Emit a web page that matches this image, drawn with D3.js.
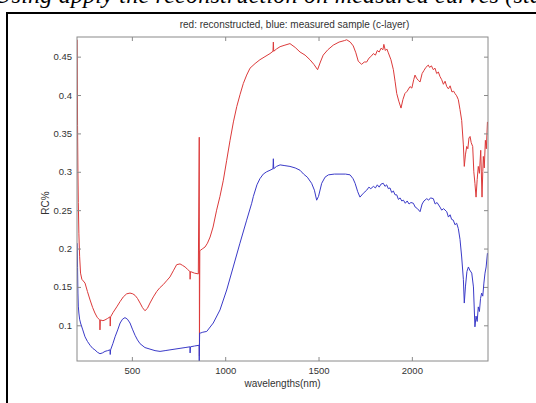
<!DOCTYPE html>
<html>
<head>
<meta charset="utf-8">
<script src="https://cdn.jsdelivr.net/npm/d3@7"></script>
<style>
  body { margin: 0; background: #fff; }
  svg { display: block; }
  .tick-label { font-family: "Liberation Sans", Arial, sans-serif; font-size: 9.5px; fill: #333; }
</style>
</head>
<body>
<div id="chart"></div>
<script>
      // spectra (wavelength in nm, RC%)
      var redWl = [207, 209, 211, 213, 216, 220, 225, 232, 249, 262, 276, 290, 302, 315, 328, 329, 331, 345, 356, 370, 383, 384, 386,
        400, 419, 437, 454, 472, 490, 505, 517, 530, 544, 557, 570, 583, 597, 615, 633, 650, 668, 686, 704, 722, 740, 758, 772,
        785, 798, 811, 812, 814, 835, 856, 861, 862, 864, 869, 880, 892, 905, 919, 935, 954, 972, 990, 1008, 1026, 1044, 1062,
        1080, 1097, 1115, 1133, 1160, 1186, 1213, 1240, 1256, 1258, 1260, 1275, 1294, 1320, 1347, 1375, 1401, 1428, 1454, 1475,
        1495, 1510, 1525, 1550, 1579, 1610, 1640, 1651, 1670, 1686, 1700, 1713, 1731, 1745, 1758, 1770, 1780, 1794, 1805, 1815,
        1825, 1835, 1845, 1850, 1858, 1866, 1874, 1888, 1901, 1910, 1919, 1930, 1942, 1952, 1963, 1975, 1990, 2000, 2010, 2017,
        2025, 2035, 2044, 2055, 2065, 2075, 2088, 2095, 2105, 2115, 2124, 2133, 2142, 2151, 2160, 2169, 2178, 2187, 2196, 2205,
        2215, 2224, 2231, 2240, 2249, 2258, 2267, 2276, 2281, 2287, 2294, 2300, 2306, 2312, 2318, 2326, 2332, 2338, 2344, 2350,
        2356, 2362, 2369, 2376, 2380, 2383, 2388, 2394, 2399, 2405];
      var redVal = [0.472, 0.36, 0.30, 0.26, 0.22, 0.19, 0.168, 0.160, 0.155, 0.144, 0.133, 0.123, 0.116, 0.110, 0.107, 0.094, 0.107,
        0.106, 0.107, 0.109, 0.111, 0.099, 0.111, 0.117, 0.124, 0.131, 0.137, 0.141, 0.142, 0.141, 0.139, 0.135, 0.129, 0.123,
        0.119, 0.122, 0.129, 0.137, 0.144, 0.149, 0.153, 0.158, 0.163, 0.171, 0.179, 0.180, 0.178, 0.176, 0.173, 0.170, 0.160,
        0.170, 0.168, 0.167, 0.345, 0.060, 0.197, 0.198, 0.200, 0.202, 0.207, 0.215, 0.228, 0.250, 0.268, 0.289, 0.315, 0.341,
        0.365, 0.385, 0.401, 0.415, 0.426, 0.435, 0.441, 0.446, 0.450, 0.454, 0.457, 0.469, 0.457, 0.460, 0.463, 0.465, 0.467,
        0.462, 0.456, 0.452, 0.446, 0.440, 0.433, 0.443, 0.452, 0.459, 0.465, 0.469, 0.471, 0.472, 0.469, 0.464, 0.455, 0.444,
        0.440, 0.443, 0.443, 0.448, 0.450, 0.454, 0.452, 0.458, 0.456, 0.461, 0.459, 0.466, 0.458, 0.460, 0.455, 0.446, 0.433,
        0.418, 0.402, 0.392, 0.383, 0.394, 0.402, 0.405, 0.411, 0.409, 0.420, 0.426, 0.422, 0.419, 0.417, 0.428, 0.432, 0.436,
        0.439, 0.436, 0.438, 0.433, 0.435, 0.428, 0.430, 0.424, 0.420, 0.414, 0.418, 0.411, 0.408, 0.412, 0.404, 0.405, 0.402,
        0.399, 0.394, 0.381, 0.367, 0.335, 0.307, 0.322, 0.333, 0.330, 0.344, 0.346, 0.338, 0.333, 0.300, 0.285, 0.267, 0.290,
        0.307, 0.298, 0.328, 0.267, 0.300, 0.320, 0.305, 0.341, 0.330, 0.365];

      var blueWl = [207, 209, 211, 213, 216, 220, 225, 237, 249, 262, 276, 290, 302, 315, 329, 342, 356, 370, 383, 384, 386, 398,
        410, 424, 437, 450, 463, 476, 490, 503, 517, 530, 544, 570, 597, 624, 651, 678, 704, 731, 758, 785, 811, 812, 814, 835,
        860, 861, 863, 869, 880, 901, 936, 972, 1008, 1043, 1079, 1115, 1142, 1151, 1170, 1186, 1204, 1222, 1240, 1256, 1258,
        1260, 1275, 1294, 1320, 1347, 1375, 1401, 1420, 1440, 1463, 1478, 1490, 1500, 1517, 1535, 1553, 1585, 1615, 1645, 1669,
        1685, 1696, 1710, 1722, 1740, 1758, 1770, 1780, 1794, 1805, 1815, 1825, 1835, 1847, 1856, 1865, 1874, 1883, 1892, 1901,
        1910, 1919, 1928, 1937, 1946, 1955, 1965, 1975, 1985, 1995, 2008, 2018, 2030, 2044, 2055, 2065, 2080, 2090, 2100, 2115,
        2125, 2135, 2151, 2160, 2170, 2187, 2196, 2205, 2213, 2222, 2231, 2240, 2249, 2258, 2267, 2276, 2281, 2287, 2295, 2303,
        2310, 2321, 2330, 2338, 2344, 2350, 2356, 2362, 2368, 2374, 2380, 2386, 2392, 2398, 2405];
      var blueVal = [0.207, 0.175, 0.142, 0.125, 0.116, 0.108, 0.103, 0.094, 0.085, 0.079, 0.074, 0.070, 0.068, 0.065, 0.063, 0.064,
        0.066, 0.067, 0.068, 0.062, 0.068, 0.076, 0.085, 0.094, 0.103, 0.108, 0.110, 0.108, 0.103, 0.095, 0.087, 0.081, 0.076,
        0.071, 0.069, 0.067, 0.066, 0.067, 0.068, 0.069, 0.070, 0.071, 0.072, 0.064, 0.072, 0.073, 0.074, 0.0535, 0.090, 0.090,
        0.091, 0.092, 0.103, 0.120, 0.146, 0.176, 0.207, 0.237, 0.259, 0.268, 0.283, 0.291, 0.297, 0.300, 0.302, 0.304, 0.317,
        0.304, 0.307, 0.309, 0.308, 0.307, 0.305, 0.302, 0.297, 0.293, 0.285, 0.276, 0.263, 0.268, 0.285, 0.293, 0.296, 0.297,
        0.297, 0.297, 0.296, 0.291, 0.285, 0.274, 0.267, 0.272, 0.276, 0.280, 0.278, 0.281, 0.279, 0.283, 0.280, 0.284, 0.285,
        0.281, 0.283, 0.278, 0.279, 0.273, 0.275, 0.270, 0.270, 0.264, 0.266, 0.262, 0.263, 0.259, 0.262, 0.258, 0.260, 0.259,
        0.254, 0.252, 0.248, 0.258, 0.262, 0.265, 0.263, 0.266, 0.265, 0.258, 0.260, 0.254, 0.250, 0.252, 0.248, 0.241, 0.244,
        0.238, 0.237, 0.231, 0.233, 0.226, 0.212, 0.189, 0.160, 0.129, 0.150, 0.170, 0.176, 0.172, 0.168, 0.150, 0.098, 0.112,
        0.105, 0.124, 0.118, 0.135, 0.142, 0.138, 0.155, 0.168, 0.176, 0.194];

      var xTicks = [500, 1000, 1500, 2000];
      var yTicks = [0.1, 0.15, 0.2, 0.25, 0.3, 0.35, 0.4, 0.45];
      var titleText = "red: reconstructed, blue: measured sample (c-layer)";
      var topLine = "Using apply the reconstruction on measured curves (sta";

      var width = 536;
      var height = 403;
      var plot = { left: 77, right: 488, top: 37, bottom: 361 };

      var svg = d3.select('#chart').append('svg')
                  .attr('width', width)
                  .attr('height', height);

      // line of page text above the figure, mostly cut off like in the scan
      svg.append('text')
         .attr('x', -6).attr('y', 3)
         .attr('font-family', '"Liberation Serif", "Times New Roman", serif')
         .attr('font-style', 'italic')
         .attr('font-size', 24)
         .attr('textLength', 548)
         .attr('fill', '#000')
         .text(topLine);

      // white figure area with black frame
      svg.append('rect')
         .attr('x', 7).attr('y', 13)
         .attr('width', 600).attr('height', 500)
         .attr('fill', '#fff')
         .attr('stroke', '#000')
         .attr('stroke-width', 2);

      var x = d3.scaleLinear().domain([206, 2408]).range([plot.left, plot.right]);
      var y = d3.scaleLinear().domain([0.0535, 0.4756]).range([plot.bottom, plot.top]);

      var line = d3.line()
                   .x(function(d){ return x(d[0]); })
                   .y(function(d){ return y(d[1]); });

      var red = d3.zip(redWl, redVal);
      var blue = d3.zip(blueWl, blueVal);

      svg.append('defs').append('clipPath').attr('id', 'clip')
         .append('rect')
         .attr('x', plot.left).attr('y', plot.top)
         .attr('width', plot.right - plot.left).attr('height', plot.bottom - plot.top);

      var lines = svg.append('g').attr('clip-path', 'url(#clip)');
      lines.append('path').datum(red)
           .attr('fill', 'none')
           .attr('stroke', '#dc3a3a')
           .attr('stroke-width', 1)
           .attr('d', line);
      lines.append('path').datum(blue)
           .attr('fill', 'none')
           .attr('stroke', '#3a3ac8')
           .attr('stroke-width', 1)
           .attr('d', line);

      // Draw the axis (ticks inside, box on)
      var axisColor = '#8a8a8a';
      var xAxis = svg.append('g').attr('transform', 'translate(0,' + plot.bottom + ')')
                     .call(d3.axisBottom(x).tickValues(xTicks).tickSizeInner(-4).tickSizeOuter(0).tickPadding(6)
                             .tickFormat(d3.format('d')));
      var xTop = svg.append('g').attr('transform', 'translate(0,' + plot.top + ')')
                    .call(d3.axisTop(x).tickValues(xTicks).tickSizeInner(-4).tickSizeOuter(0).tickFormat(''));
      var yAxis = svg.append('g').attr('transform', 'translate(' + plot.left + ',0)')
                     .call(d3.axisLeft(y).tickValues(yTicks).tickSizeInner(-4).tickSizeOuter(0).tickPadding(5)
                             .tickFormat(function(d){ return String(+d.toFixed(2)); }));
      var yRight = svg.append('g').attr('transform', 'translate(' + plot.right + ',0)')
                      .call(d3.axisRight(y).tickValues(yTicks).tickSizeInner(-4).tickSizeOuter(0).tickFormat(''));

      [xAxis, xTop, yAxis, yRight].forEach(function(g){
        g.select('.domain').remove();
        g.selectAll('line').attr('stroke', axisColor);
        g.selectAll('text').attr('class', 'tick-label').attr('fill', '#333');
      });

      svg.append('rect')
         .attr('x', plot.left).attr('y', plot.top)
         .attr('width', plot.right - plot.left).attr('height', plot.bottom - plot.top)
         .attr('fill', 'none')
         .attr('stroke', axisColor)
         .attr('stroke-width', 1);

      // labels
      svg.append('text')
         .attr('x', (plot.left + plot.right) / 2 + 12).attr('y', 28)
         .attr('text-anchor', 'middle')
         .attr('font-family', '"Liberation Sans", Arial, sans-serif')
         .attr('font-size', 10)
         .attr('fill', '#333')
         .text(titleText);
      svg.append('text')
         .attr('x', (plot.left + plot.right) / 2).attr('y', 387)
         .attr('text-anchor', 'middle')
         .attr('font-family', '"Liberation Sans", Arial, sans-serif')
         .attr('font-size', 10)
         .attr('fill', '#333')
         .text('wavelengths(nm)');
      svg.append('text')
         .attr('transform', 'translate(49,' + ((plot.top + plot.bottom) / 2 + 4) + ') rotate(-90)')
         .attr('text-anchor', 'middle')
         .attr('font-family', '"Liberation Sans", Arial, sans-serif')
         .attr('font-size', 10)
         .attr('fill', '#333')
         .text('RC%');
</script>
</body>
</html>
